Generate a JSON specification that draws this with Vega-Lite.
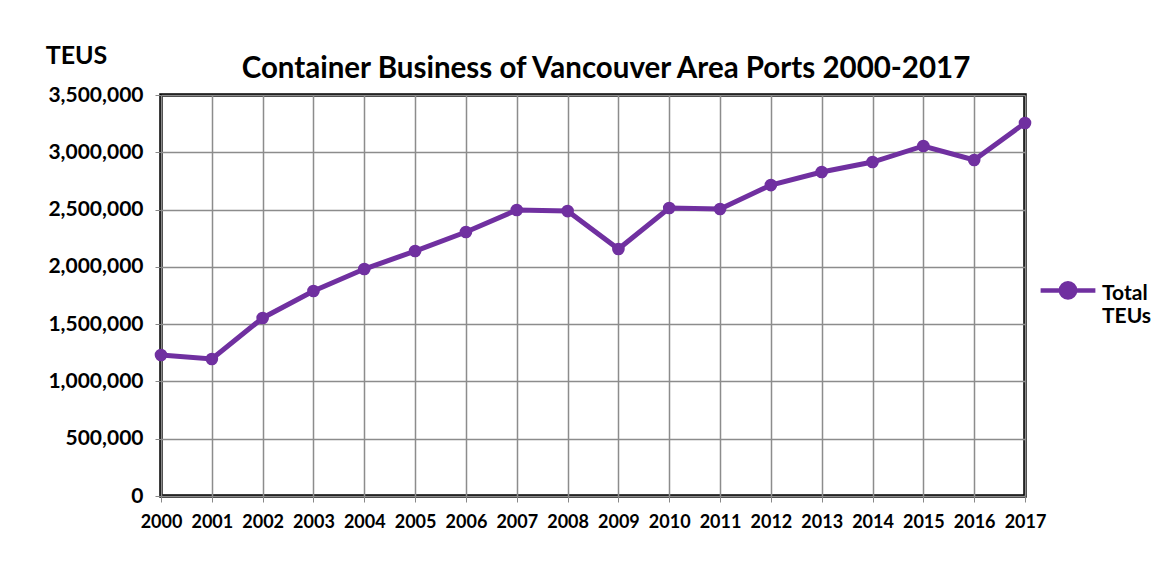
{
  "$schema": "https://vega.github.io/schema/vega-lite/v6.json",
  "width": 864,
  "height": 401,
  "autosize": {"type": "none"},
  "padding": {"left": 161, "top": 95, "right": 145, "bottom": 66},
  "background": "white",
  "title": {
    "text": "Container Business of Vancouver Area Ports 2000-2017",
    "font": "Lato",
    "fontSize": 29.5,
    "fontWeight": "bold",
    "color": "black",
    "anchor": "middle",
    "offset": -41,
    "dx": 13
  },
  "config": {
    "view": {"stroke": "black", "strokeWidth": 3.5},
    "font": "Lato"
  },
  "data": {
    "values": [
      {"year": 2000, "teus": 1231000, "series": "Total TEUs"},
      {"year": 2001, "teus": 1196000, "series": "Total TEUs"},
      {"year": 2002, "teus": 1554000, "series": "Total TEUs"},
      {"year": 2003, "teus": 1789000, "series": "Total TEUs"},
      {"year": 2004, "teus": 1981000, "series": "Total TEUs"},
      {"year": 2005, "teus": 2138000, "series": "Total TEUs"},
      {"year": 2006, "teus": 2304000, "series": "Total TEUs"},
      {"year": 2007, "teus": 2496000, "series": "Total TEUs"},
      {"year": 2008, "teus": 2487000, "series": "Total TEUs"},
      {"year": 2009, "teus": 2156000, "series": "Total TEUs"},
      {"year": 2010, "teus": 2514000, "series": "Total TEUs"},
      {"year": 2011, "teus": 2505000, "series": "Total TEUs"},
      {"year": 2012, "teus": 2714000, "series": "Total TEUs"},
      {"year": 2013, "teus": 2828000, "series": "Total TEUs"},
      {"year": 2014, "teus": 2915000, "series": "Total TEUs"},
      {"year": 2015, "teus": 3055000, "series": "Total TEUs"},
      {"year": 2016, "teus": 2933000, "series": "Total TEUs"},
      {"year": 2017, "teus": 3256000, "series": "Total TEUs"}
    ]
  },
  "mark": {
    "type": "line",
    "strokeWidth": 5,
    "point": {"filled": true, "size": 160}
  },
  "encoding": {
    "x": {
      "field": "year",
      "type": "quantitative",
      "scale": {"domain": [2000, 2017], "nice": false, "zero": false},
      "axis": {
        "values": [2000, 2001, 2002, 2003, 2004, 2005, 2006, 2007, 2008, 2009, 2010, 2011, 2012, 2013, 2014, 2015, 2016, 2017],
        "format": "d",
        "title": null,
        "labelFont": "Lato",
        "labelFontSize": 18,
        "labelFontWeight": "bold",
        "labelColor": "black",
        "labelPadding": 11,
        "labelFlush": false,
        "labelOverlap": false,
        "domain": false,
        "tickColor": "#888888",
        "tickSize": 6,
        "grid": true,
        "gridColor": "#8c8c8c",
        "gridWidth": 1.5
      }
    },
    "y": {
      "field": "teus",
      "type": "quantitative",
      "scale": {"domain": [0, 3500000], "nice": false},
      "axis": {
        "values": [0, 500000, 1000000, 1500000, 2000000, 2500000, 3000000, 3500000],
        "format": ",d",
        "title": "TEUS",
        "titleAngle": 0,
        "titleX": -85,
        "titleY": -40,
        "titleAlign": "center",
        "titleBaseline": "middle",
        "titleFont": "Lato",
        "titleFontSize": 25,
        "titleFontWeight": "bold",
        "titleColor": "black",
        "labelFont": "Lato",
        "labelFontSize": 21,
        "labelFontWeight": "bold",
        "labelColor": "black",
        "labelPadding": 12,
        "domain": false,
        "tickColor": "#888888",
        "tickSize": 6,
        "grid": true,
        "gridColor": "#8c8c8c",
        "gridWidth": 1.5
      }
    },
    "color": {
      "field": "series",
      "type": "nominal",
      "scale": {"range": ["#7030A0"]},
      "legend": {
        "title": null,
        "orient": "none",
        "legendX": 877,
        "legendY": 158,
        "symbolType": "M-1,0.27H1M0.26,0.27A0.26,0.26 0 1,1 -0.26,0.27A0.26,0.26 0 1,1 0.26,0.27",
        "symbolSize": 3000,
        "symbolStrokeWidth": 4.5,
        "symbolFillColor": "#7030A0",
        "symbolStrokeColor": "#7030A0",
        "labelExpr": "split(datum.label, ' ')",
        "labelFont": "Lato",
        "labelFontSize": 21,
        "labelLineHeight": 25,
        "labelFontWeight": "bold",
        "labelColor": "black",
        "labelOffset": 4,
        "labelBaseline": "top",
        "labelLimit": 200
      }
    }
  }
}
